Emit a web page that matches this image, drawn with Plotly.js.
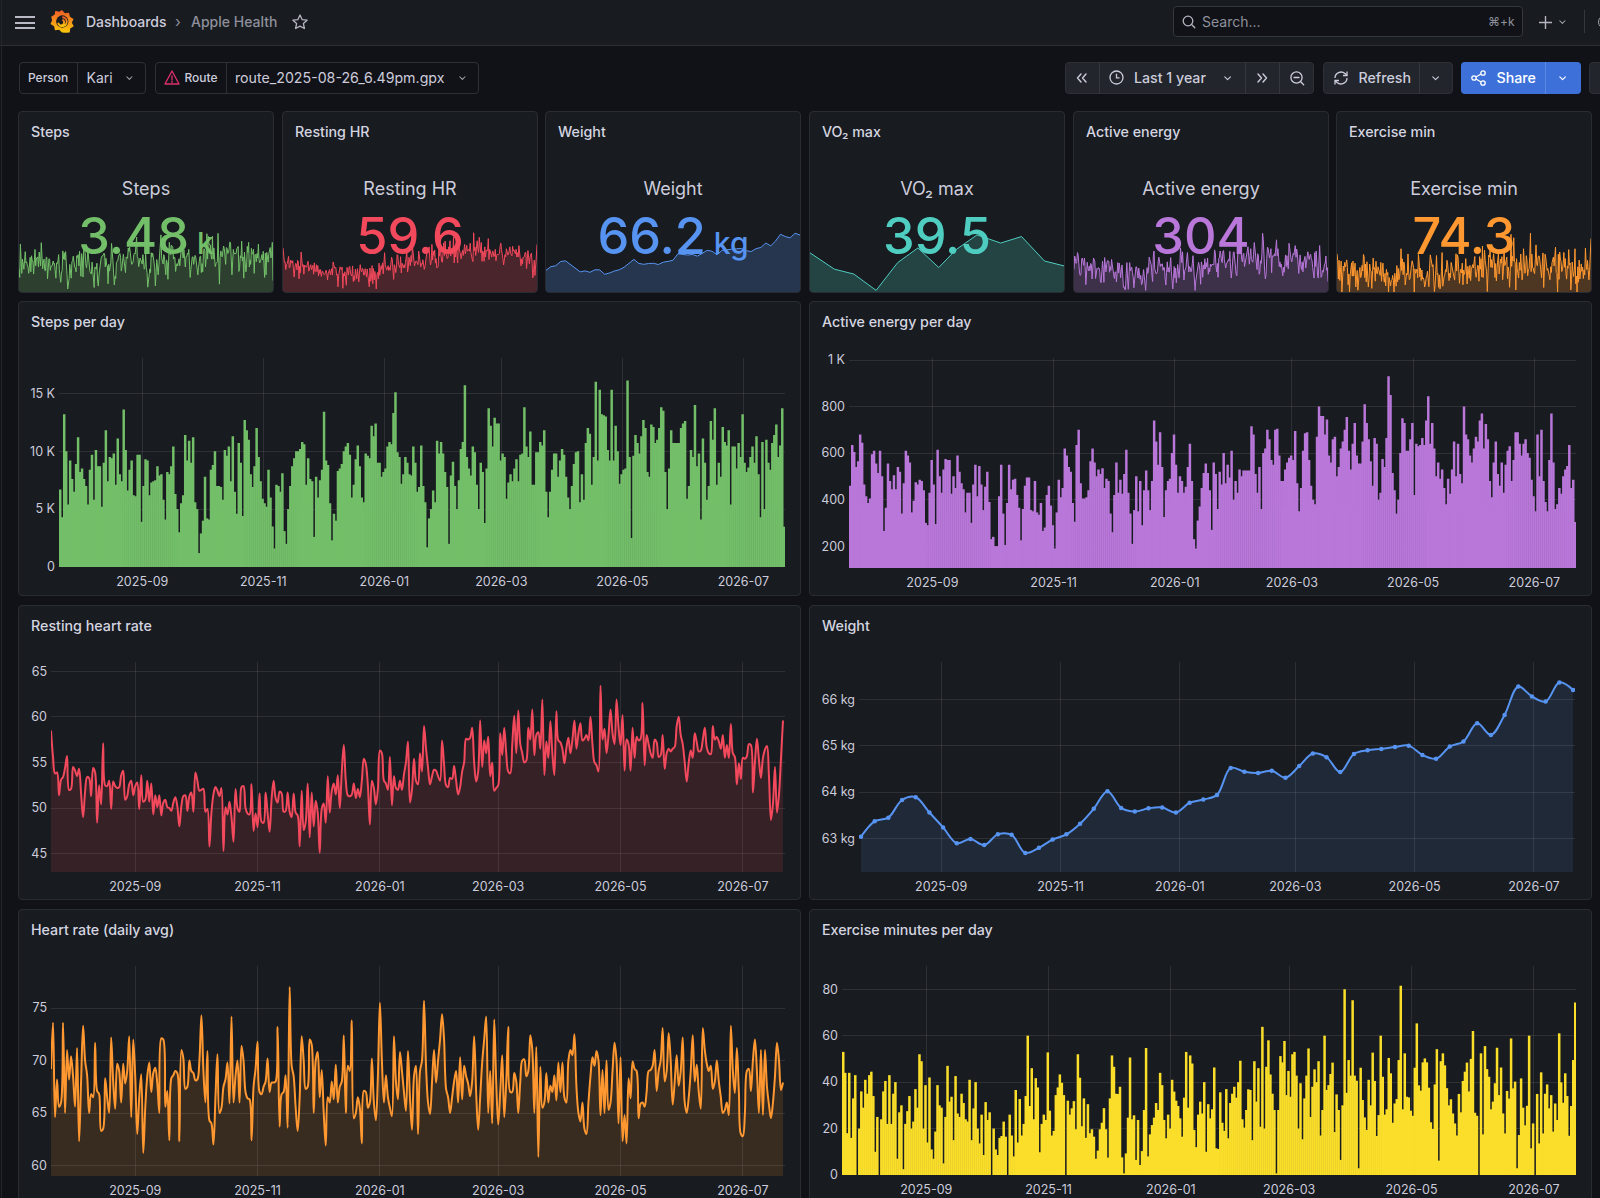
<!DOCTYPE html>
<html><head><meta charset="utf-8">
<script src="https://cdn.plot.ly/plotly-3.0.1.min.js"></script>
<style>
html,body{margin:0;padding:0;width:1600px;height:1198px;overflow:hidden;background:#111217;font-family:Inter,sans-serif;color:#ccccdc}
*{box-sizing:border-box}
.abs{position:absolute}
.t{position:absolute;white-space:nowrap;line-height:1}
.panel{position:absolute;background:#181b1f;border:1px solid #292c32;border-radius:4px;overflow:hidden}
.ptitle{position:absolute;left:12px;font-size:14.25px;font-weight:500;color:#d4d5e0;white-space:nowrap;line-height:16px}
.box{position:absolute;border:1px solid #2d3036;border-radius:4px}
.btn{position:absolute;background:#22252b;border:1px solid #2d3036;border-radius:4px}
svg{position:absolute;overflow:visible}
</style></head><body>
<div id="root"></div>
<script>
// ---------- data ----------
const personLabel = "Person", personValue = "Kari", routeLabel = "Route", routeValue = "route_2025-08-26_6.49pm.gpx";
const stepsK = [
6.7,4.3,13.2,10.0,5.4,9.2,7.6,6.5,8.9,11.2,
8.2,8.5,7.6,7.0,5.4,8.4,9.7,5.8,10.1,8.7,
8.7,5.2,9.0,11.8,7.4,9.5,9.4,9.8,7.1,11.1,
8.0,7.4,13.6,10.1,6.6,8.4,9.2,6.2,6.1,9.7,
9.7,3.9,7.0,9.3,9.2,6.2,7.3,7.4,7.5,8.7,
7.9,8.0,5.8,4.1,8.2,8.0,8.7,10.4,6.3,5.0,
3.0,5.5,6.2,11.4,9.2,10.9,9.0,11.2,5.6,5.0,
1.2,2.9,4.0,7.8,4.2,4.1,8.4,8.8,10.0,7.0,
7.0,6.9,5.8,10.1,9.6,10.4,7.4,11.3,6.5,4.6,
10.7,9.0,4.4,12.7,11.8,11.0,8.0,6.9,8.7,12.0,
9.5,7.4,5.9,5.5,5.2,8.4,6.0,3.5,1.6,7.1,
7.0,6.5,8.1,3.1,2.0,5.0,7.0,8.7,9.4,10.0,
10.0,10.2,10.8,10.6,7.1,9.4,7.6,7.4,2.6,7.8,
6.0,7.5,8.4,13.4,9.2,8.8,5.5,2.3,4.6,4.0,
8.3,8.5,8.9,10.0,10.4,10.7,9.7,6.0,7.1,9.3,
10.5,8.7,6.0,5.6,9.8,9.6,9.4,12.2,11.3,12.4,
9.0,9.0,7.8,8.2,8.5,10.4,10.8,10.6,13.3,15.1,
9.9,9.5,7.2,8.0,9.5,9.0,8.0,7.9,10.4,9.0,
6.5,6.9,10.5,7.0,5.6,1.7,4.2,5.0,6.6,5.6,
10.9,9.8,10.8,9.8,8.2,6.9,2.0,7.9,9.1,7.0,
5.0,7.5,10.2,10.8,15.7,9.5,8.5,7.9,10.4,9.9,
7.1,5.0,9.0,8.2,3.8,8.5,13.7,12.2,10.4,12.9,
12.4,12.4,9.2,9.8,9.5,5.9,7.3,8.0,7.4,8.5,
9.3,7.4,9.7,9.8,13.8,10.4,9.5,11.7,7.1,7.1,
9.9,9.9,10.8,10.5,11.8,6.5,4.3,6.5,8.4,9.8,
9.8,7.8,9.2,10.2,9.7,7.8,6.0,5.0,7.0,8.9,
9.9,10.0,5.6,8.0,5.8,10.7,12.0,11.5,7.1,9.5,
16.0,9.2,15.3,13.2,13.1,13.0,10.1,9.2,15.3,9.2,
12.2,10.0,7.2,8.0,8.4,8.5,16.1,9.5,2.5,9.6,
11.4,10.7,9.8,11.3,12.7,12.0,8.2,7.8,12.3,12.1,
10.7,11.0,12.0,13.8,13.5,8.2,5.0,8.5,11.8,10.7,
10.7,10.7,10.7,12.0,12.4,12.6,5.9,7.0,10.1,9.5,
14.0,8.7,9.8,4.1,11.1,9.0,5.8,7.0,12.6,11.0,
13.7,7.1,9.0,7.8,12.1,10.8,10.5,11.8,5.4,10.4,
10.4,8.5,10.7,9.5,13.2,9.0,8.2,8.6,9.5,10.4,
9.0,11.3,8.0,4.3,10.8,5.0,11.0,9.0,8.4,10.7,
11.4,12.3,9.5,10.5,13.7,3.48];
const activeEnergy = [
460,635,605,540,565,680,645,465,415,385,
405,595,610,555,515,610,500,265,365,555,
480,445,505,445,540,520,340,470,610,590,
560,345,395,475,465,485,480,440,300,290,
430,570,465,295,615,500,430,530,575,570,
570,425,500,450,590,520,470,445,345,430,
430,300,465,550,415,545,465,355,455,520,
390,230,240,200,200,415,550,340,205,385,
550,445,485,490,420,365,225,360,460,495,
495,355,350,480,345,335,385,265,280,420,
460,375,290,190,345,485,410,450,620,590,
540,520,385,305,635,700,470,405,405,410,
440,565,620,560,500,530,510,535,450,490,
480,340,260,420,560,430,485,425,510,615,
430,340,210,355,500,350,480,290,440,525,
440,355,480,740,650,550,690,540,325,440,
480,490,600,680,550,430,500,480,430,455,
540,640,480,230,190,310,370,450,515,555,
515,440,270,560,510,360,520,465,600,470,
550,495,610,400,480,430,530,500,525,525,
525,525,715,680,510,430,540,360,600,620,
700,660,570,550,700,705,590,480,480,530,
560,580,590,570,695,470,350,450,610,685,
690,570,460,400,380,670,800,760,760,680,
745,590,560,660,670,500,540,620,650,700,
755,610,530,640,730,590,555,555,650,810,
730,660,565,460,665,640,400,430,575,540,
665,930,850,515,440,340,400,600,750,730,
610,610,660,730,420,640,630,635,665,635,
740,845,640,730,620,500,560,490,530,450,
380,490,425,530,650,500,640,510,470,800,
680,660,590,560,620,670,650,740,770,620,
725,660,480,410,560,650,510,460,560,430,
550,610,630,480,570,690,690,640,590,640,
660,600,580,485,415,350,680,500,700,480,
390,350,570,770,560,360,380,450,425,500,
530,545,635,450,485,304];
const restingHR = [
58.5,55.6,53.8,53.9,51.4,53.1,53.4,54.4,55.7,52.0,
52.1,54.5,54.1,53.5,54.3,51.6,49.0,51.8,53.4,53.3,
51.3,54.4,53.9,48.4,52.5,50.4,57.1,52.5,52.4,53.0,
49.9,52.9,52.4,52.2,52.3,53.6,54.1,50.9,51.3,52.6,
53.0,51.4,52.4,52.8,49.9,53.6,50.7,50.9,53.0,50.7,
52.7,49.3,51.4,50.1,51.4,49.2,50.6,50.9,50.1,50.0,
49.7,50.6,51.2,50.2,48.0,50.2,51.3,51.4,49.7,51.3,
51.7,49.6,53.9,53.0,51.9,52.0,52.1,49.6,49.9,45.8,
49.5,51.5,52.3,51.9,51.3,52.2,45.3,50.1,49.3,50.7,
49.0,46.3,52.1,50.0,49.6,52.3,52.4,50.0,49.4,49.3,
52.6,47.5,49.4,47.9,51.6,48.5,48.4,51.7,49.5,47.4,
51.0,53.0,51.1,50.6,51.8,51.6,49.6,49.7,51.7,49.6,
49.0,51.6,49.5,49.2,45.8,51.9,47.6,48.5,52.7,46.8,
51.7,48.0,50.8,49.5,45.1,49.9,50.5,48.4,53.5,49.5,
51.9,52.7,51.5,53.6,50.0,54.0,56.9,53.0,51.4,51.3,
51.5,52.7,51.1,52.1,51.2,53.0,55.4,54.8,52.5,48.2,
53.0,52.2,50.4,52.1,56.3,56.0,53.0,52.7,52.0,55.6,
50.3,53.5,52.2,52.0,53.0,52.0,53.7,55.0,57.3,50.6,
52.0,55.4,53.0,52.6,56.0,54.0,59.0,56.5,54.4,52.6,
53.5,54.2,54.1,53.5,53.0,57.4,54.8,52.5,52.3,53.3,
53.2,54.6,53.0,51.5,52.3,54.0,55.0,57.6,57.5,57.7,
58.8,55.0,52.9,54.0,59.6,54.5,57.4,56.0,57.8,53.5,
55.0,51.9,52.2,52.5,58.2,55.8,58.8,56.0,54.0,53.8,
57.0,60.1,56.0,60.7,57.0,56.0,55.0,55.2,58.8,57.5,
60.8,55.8,58.0,58.3,56.5,61.9,53.6,57.3,55.5,59.5,
56.0,53.6,60.6,57.4,57.2,56.5,54.9,56.6,57.7,56.0,
57.5,59.6,56.5,58.2,59.3,57.4,57.6,58.0,57.4,60.0,
57.0,55.0,54.7,54.0,63.4,57.5,58.7,56.0,58.0,60.8,
58.2,57.0,61.9,58.8,56.9,60.2,54.1,57.5,57.0,54.1,
58.8,55.5,57.8,57.4,57.6,61.5,54.7,58.0,57.0,56.0,
55.5,57.5,57.2,55.6,55.8,58.0,54.3,56.0,56.5,56.2,
56.5,56.7,59.0,60.0,58.0,57.0,55.0,52.9,55.0,56.3,
55.5,58.2,57.2,56.2,56.3,57.5,58.8,56.6,56.0,55.9,
59.0,57.5,57.8,57.3,56.5,58.0,55.5,56.9,55.5,59.2,
56.0,55.6,52.6,54.9,53.2,55.5,55.4,55.7,57.0,56.9,
51.7,55.0,57.6,55.3,53.3,55.5,56.4,56.8,53.5,48.7,
50.5,54.5,49.5,51.5,55.5,59.6];
const heartRate = [
69.2,73.6,64.6,68.2,65.6,66.0,73.6,65.0,71.0,68.2,
70.4,68.5,65.6,71.2,62.3,68.0,73.3,70.0,68.6,65.0,
66.8,66.5,71.7,67.1,66.8,63.3,63.5,68.3,66.5,65.0,
72.2,68.0,65.4,69.7,69.0,66.0,69.7,67.8,69.0,72.3,
64.6,72.0,68.5,63.0,66.5,68.7,61.2,65.5,68.5,69.8,
67.0,68.8,69.3,67.8,65.0,72.1,72.0,65.6,67.1,62.4,
68.3,68.6,69.0,68.8,62.3,71.0,70.2,67.3,67.5,70.0,
69.0,68.8,68.1,68.2,70.0,74.3,69.0,66.0,70.9,64.3,
64.0,62.0,66.5,70.6,65.0,65.5,67.5,68.2,69.8,65.9,
74.2,66.0,68.5,70.0,66.0,71.4,70.0,67.0,66.4,66.3,
62.4,67.5,69.2,71.8,67.0,66.8,67.5,68.0,70.2,67.0,
67.9,67.9,68.0,73.2,63.7,66.8,67.0,68.6,63.6,77.0,
69.5,68.5,65.5,63.3,66.5,72.3,70.0,67.3,67.5,72.0,
71.5,65.0,70.0,70.8,66.5,69.1,65.0,61.9,66.5,66.0,
68.0,66.3,69.6,66.0,67.5,68.0,72.4,65.0,69.5,69.0,
73.8,64.5,65.0,66.5,65.5,62.1,67.1,67.0,65.5,66.0,
70.2,66.0,64.3,68.5,75.5,70.0,66.0,68.6,66.5,65.5,
64.7,72.3,68.0,66.3,70.8,69.0,67.0,65.2,70.9,66.5,
63.4,68.5,69.5,63.0,69.0,70.0,75.7,69.5,66.0,64.9,
68.0,71.0,67.9,70.0,72.0,74.4,72.0,67.3,66.5,65.0,
66.5,68.0,69.0,66.0,70.3,66.3,69.5,68.5,67.8,66.6,
68.0,72.3,67.0,63.4,66.5,69.8,72.0,74.2,65.0,69.0,
64.0,73.9,68.0,63.9,67.0,70.5,64.6,68.0,73.2,67.0,
67.0,68.8,68.0,65.0,68.0,70.0,70.1,68.5,69.0,72.4,
71.0,65.0,71.3,60.8,69.4,65.5,66.0,68.8,66.0,67.6,
67.0,68.6,66.2,69.8,67.0,69.8,66.5,66.0,70.0,71.0,
70.5,72.5,67.5,65.0,64.2,66.0,63.5,63.0,66.0,68.5,
70.3,69.5,70.9,70.0,64.8,69.1,65.0,70.0,65.3,66.0,
69.0,71.7,70.0,64.0,70.3,62.3,64.8,62.1,68.3,66.4,
69.9,69.2,69.0,64.5,65.9,66.0,65.6,67.0,69.0,69.1,
69.5,71.0,67.1,69.0,70.0,73.1,68.0,69.0,72.6,70.0,
65.8,68.0,70.5,67.6,69.0,72.2,66.0,65.0,66.5,69.0,
72.4,68.0,69.6,67.0,65.4,73.1,71.0,69.7,69.0,69.5,
67.3,68.0,70.0,68.0,66.5,65.0,65.3,66.0,64.8,73.3,
69.0,66.9,71.2,67.0,63.0,62.8,65.0,69.0,69.2,67.1,
70.0,72.0,69.0,65.0,71.0,64.8,71.0,67.5,65.8,64.5,
66.0,68.5,71.7,70.0,67.2,67.9];
const exerciseMin = [
53,44,18,44,16,33,43,0,20,36,
29,41,35,43,44.5,34,10,25,0,24,
36,40.5,22,43,22,35,40,7,27,30,
2.5,22,27.5,34,20,23,37,29,52,49,
20,38.7,14,42,11,7,18.7,38.7,30,29,
5,25,47,31.6,33.7,15,42.6,26.5,25,35,
31,24,23,41,15,28.7,40,20,13.6,26,
8.6,31.4,23.7,27,0,20,11,8.6,16,16.8,
23,16.5,0,26,17,8,36.6,14,32.7,17,22,
34,60,29.7,46,24,41.7,37.7,9.8,22,26,
23.7,52.8,27.7,17,19,34.4,37.7,43.3,39.7,34.4,
0,32,26,28.7,31.8,19.7,52,41.9,21,33,
16,30.5,18,19.7,16.5,7,10.5,19.7,22.5,28.8,
19.7,7.5,33,51.5,46.6,35,34.9,38,7.6,0.7,
9.3,24.7,50.6,24,25.7,6.5,23.7,4.3,10.3,28,
54.7,8,17.5,21.5,24.7,31,28,44,38.7,23.7,
15.8,26,20,41,35.9,32,29.7,24.4,16.5,33.3,
53,29,51.5,48,19.4,12,26,31.6,26.5,40,
10,30.5,24.4,28.3,46.3,11.5,11.2,35.6,22.5,19,
37,15.8,31,35,38,33.3,40,49.2,24,20.4,28,
36.9,36.6,15,49,31.6,46,20.8,63.8,20,46.6,
58,43.3,35,28,0.7,28,51.2,48.5,57.7,34.4,
44.8,33.7,52,53,42.8,20,39.5,15.4,33,42.8,
54.5,25,38,45.5,40,49,17,28,60,36.6,
38.7,43.5,48.4,18.5,34.7,28,6.5,30,80,35.4,
49.5,42.8,75.3,42.8,40.6,2.9,46.2,32.3,24.8,19.4,
41,30,52.7,40.5,16.8,25.8,60,42.3,26,28.3,
50.4,43.8,22.5,30.8,32.7,49.5,81.5,28.3,52.4,33.7,
33.4,27.7,25.5,46.2,65.3,38.6,36.3,48.5,50.2,48.5,
37.6,22.7,19.8,39,54.2,6.2,49,52.4,47.2,37.4,30,
32.6,26.5,22.2,17,34.9,27,40.5,44.5,48.4,36,
50,62,26.8,25.5,0,52.4,17.5,55.5,45.6,42.3,
28.3,31.6,39.5,54.8,34.4,46.3,26.5,17.9,36.2,32.9,
58.8,37.3,40.2,2.9,17.2,41.6,29,21.4,29.8,60,
11.5,22.2,0,34.9,13.6,44.2,17.9,35,39,28.7,
34.4,18.7,30.8,23.7,61,39.9,31.1,43.8,34,16.9,
29.7,49.5,74.3];
const weightDates = ["2025-07-22","2025-07-29","2025-08-05","2025-08-12","2025-08-19","2025-08-26","2025-09-02","2025-09-09","2025-09-16","2025-09-23","2025-09-30","2025-10-07","2025-10-14","2025-10-21","2025-10-28","2025-11-04","2025-11-11","2025-11-18","2025-11-25","2025-12-02","2025-12-09","2025-12-16","2025-12-23","2025-12-30","2026-01-06","2026-01-13","2026-01-20","2026-01-27","2026-02-03","2026-02-10","2026-02-17","2026-02-24","2026-03-03","2026-03-10","2026-03-17","2026-03-24","2026-03-31","2026-04-07","2026-04-14","2026-04-21","2026-04-28","2026-05-05","2026-05-12","2026-05-19","2026-05-26","2026-06-02","2026-06-09","2026-06-16","2026-06-23","2026-06-30","2026-07-07","2026-07-14","2026-07-21"];
const weightKg = [63.04,63.37,63.45,63.83,63.89,63.56,63.24,62.9,62.99,62.86,63.09,63.08,62.69,62.8,62.98,63.09,63.32,63.64,64.02,63.66,63.58,63.65,63.67,63.56,63.77,63.84,63.94,64.52,64.44,64.41,64.46,64.31,64.56,64.83,64.75,64.43,64.82,64.9,64.93,64.97,65.0,64.8,64.72,64.98,65.09,65.48,65.23,65.66,66.27,66.06,65.95,66.36,66.2];
const vo2Dates = ["2025-07-21","2025-08-25","2025-09-22","2025-10-24","2025-11-24","2025-12-23","2026-01-22","2026-02-16","2026-03-18","2026-04-21","2026-05-21","2026-06-23","2026-07-21"];
const vo2Max = [40.3,39.3,39.0,38.0,39.7,40.6,39.4,40.5,41.4,40.9,41.3,39.8,39.5];
const statTitles = ["Steps","Resting HR","Weight","VO₂ max","Active energy","Exercise min"];
const statValues = ["3.48","59.6","66.2","39.5","304","74.3"];
const statUnits = [" k","",' kg',"","",""];
const xTickLabelFormat = "%Y-%m";
const stepsTicks = [0,5,10,15], stepsTickText = ["0","5 K","10 K","15 K"];
const energyTicks = [200,400,600,800,1000], energyTickText = ["200","400","600","800","1 K"];
const rhrTicks = [45,50,55,60,65], hrTicks = [60,65,70,75], weightTicks=[63,64,65,66], weightTickText=["63 kg","64 kg","65 kg","66 kg"], exTicks=[0,20,40,60,80];

// ---------- helpers ----------
const dayDates = n => { const a=[]; const t0=Date.UTC(2025,6,21); for(let i=0;i<n;i++) a.push(new Date(t0+i*864e5).toISOString().slice(0,10)); return a; };
const GREEN="#73BF69",RED="#F2495C",BLUE="#5794F2",TEAL="#4ECDC0",PURPLE="#B877D9",ORANGE="#FF9830",YELLOW="#FADE2A";
const rgba=(h,a)=>{const n=parseInt(h.slice(1),16);return `rgba(${n>>16},${(n>>8)&255},${n&255},${a})`};
const root=document.getElementById('root');
const cfg={staticPlot:true,displayModeBar:false,responsive:false};
function el(tag,cls,style,html,parent){const e=document.createElement(tag);if(cls)e.className=cls;if(style)e.style.cssText=style;if(html!=null)e.innerHTML=html;(parent||root).appendChild(e);return e;}
function text(x,y,s,size,color,weight,parent){
  const st=`left:${x}px;top:${y-size/2}px;font-size:${size}px;color:${color};font-weight:${weight||400};`;
  return el('div','t',st,s,parent);
}
const X0='2025-07-21', X1='2026-07-22';

function timeChart(o){
  const p=el('div','panel',`left:${o.l}px;top:${o.t}px;width:${o.r-o.l}px;height:${o.b-o.t}px`);
  el('div','ptitle',`top:12px`,o.title,p);
  const d=el('div','abs',`left:0;top:0;width:${o.r-o.l-2}px;height:${o.vh-o.t-1}px`,null,p);
  const layout={
    width:o.r-o.l-2,height:o.vh-o.t-1,
    margin:{l:o.pl-o.l-1,r:o.r-1-o.pr,t:o.pt-o.t-1,b:o.vh-o.pb,pad:0},
    paper_bgcolor:'rgba(0,0,0,0)',plot_bgcolor:'rgba(0,0,0,0)',showlegend:false,barmode:'overlay',
    font:{family:'Inter, sans-serif',size:13,color:'#ccccdc'},
    xaxis:{type:'date',range:[X0,X1],tick0:'2025-09-01',dtick:'M2',tickformat:xTickLabelFormat,showgrid:true,gridcolor:'rgba(204,204,220,0.12)',gridwidth:1,zeroline:false,showline:false,ticks:'',tickfont:{size:12.5,color:'#ccccdc'},ticklabelstandoff:5,automargin:false},
    yaxis:Object.assign({range:o.yr,tickmode:'array',tickvals:o.ticks,showgrid:true,gridcolor:'rgba(204,204,220,0.12)',gridwidth:1,zeroline:false,showline:false,ticks:'',tickfont:{size:12.5,color:'#ccccdc'},ticklabelstandoff:3,automargin:false},o.ticktext?{ticktext:o.ticktext}:{})
  };
  Plotly.newPlot(d,o.traces,layout,cfg);
}
const bar=(x,y,c)=>({type:'bar',x,y,width:864e5*1.25,offset:0,marker:{color:c,line:{width:0}},hoverinfo:'skip'});
const area=(x,y,c,a,w,mode,ms)=>({type:'scatter',mode:mode||'lines',x,y,line:{color:c,width:w,shape:'spline',smoothing:1},marker:{color:c,size:ms||5},fill:'tozeroy',fillcolor:rgba(c,a),hoverinfo:'skip',cliponaxis:true});

// ---------- chrome ----------
el('div','abs','left:0;top:0;width:1600px;height:46px;background:#181b1f;border-bottom:1px solid #2c2f35');
el('div','abs','left:1px;top:0;width:1px;height:1198px;background:#22252b');
el('div','abs','left:15px;top:16px;width:20px;height:2px;background:#b9bac6');
el('div','abs','left:15px;top:21.5px;width:20px;height:2px;background:#b9bac6');
el('div','abs','left:15px;top:27px;width:20px;height:2px;background:#b9bac6');
const svgNS=(s,x,y,w,h,vb)=>`<svg style="left:${x}px;top:${y}px" width="${w}" height="${h}" viewBox="${vb||`0 0 ${w} ${h}`}" fill="none">${s}</svg>`;
const icon=(s,x,y,w,h,vb,parent)=>el('div','abs','left:0;top:0',svgNS(s,x,y,w,h,vb),parent);
const chev=(cx,cy,c,sz)=>{const k=sz||1;return icon(`<path d="M1 1l3.5 3.5L8 1" stroke="${c||'#ccccdc'}" stroke-width="1.4" stroke-linecap="round" stroke-linejoin="round"/>`,cx-4.5*k,cy-3*k,9*k,6*k,'0 0 9 6');};
icon(`<defs><linearGradient id="g" x1="0" y1="1" x2="0" y2="0"><stop offset="0" stop-color="#FBCA0A"/><stop offset="1" stop-color="#F05A28"/></linearGradient></defs>
<path d="M12 0l3 3.5 4.3-.7 1 4.2 3.7 2.3-1.7 4 2 3.7-3.7 2.3-.6 4.3-4.3.1L12 23.5 9 20.5l-4.3.7-1-4.2L0 14.7l1.7-4-1-3.7L4.4 4.7 5 .8l4 .9z" fill="url(#g)"/>
<circle cx="12.3" cy="12" r="6.4" fill="#181b1f"/><path d="M12.3 7.6a4.6 4.6 0 1 1-4.4 5.8a3.2 3.2 0 1 0 4.6-3.4" stroke="url(#g)" stroke-width="2"/>`,50,10,24,23,'0 0 24 24');
text(86,22,'Dashboards',14,'#ccccdc',500);
text(175,21,'›',15,'#8e8f9c',400);
text(191,22,'Apple Health',14,'#8e909c',500);
icon(`<path d="M8 1l2.1 4.6 5 .6-3.7 3.4 1 4.9L8 12.1l-4.4 2.4 1-4.9L.9 6.2l5-.6z" stroke="#b4b5c0" stroke-width="1.3" stroke-linejoin="round"/>`,292,14,16,16);
// search
el('div','box','left:1173px;top:6px;width:350px;height:31px;background:#111217;border-color:#34373d');
icon(`<circle cx="6" cy="6" r="4.8" stroke="#b4b5c0" stroke-width="1.3"/><path d="M9.8 9.8l3 3" stroke="#b4b5c0" stroke-width="1.3" stroke-linecap="round"/>`,1182,15,14,14);
text(1202,22,'Search...',14,'#8e909c',400);
text(1488,22,'⌘+k',12,'#8e909c',400);
icon(`<path d="M6.5 0v13M0 6.5h13" stroke="#b4b5c0" stroke-width="1.4"/>`,1539,16,13,13);
chev(1562,22,'#a4a5b0',0.75);
el('div','abs','left:1584px;top:10px;width:1px;height:23px;background:#34373d');
el('div','abs','left:1598px;top:15px;width:14px;height:14px;border-radius:50%;border:1px solid #a4a5b0');
// variables
el('div','box','left:19px;top:62px;width:127px;height:32px');
el('div','abs','left:77px;top:62px;width:1px;height:32px;background:#2d3036');
text(28,78,personLabel,12,'#ccccdc',500);
text(86.5,78,personValue,14,'#ccccdc',400);
chev(129,78,'#a4a5b0',0.75);
el('div','box','left:155px;top:62px;width:324px;height:32px');
el('div','abs','left:226px;top:62px;width:1px;height:32px;background:#2d3036');
icon(`<path d="M8 1L1 14h14z" stroke="#E0306A" stroke-width="1.3" stroke-linejoin="round"/><path d="M8 6v4M8 11.5v1" stroke="#E0306A" stroke-width="1.3" stroke-linecap="round"/>`,164,70,16,16);
text(184.5,78,routeLabel,12,'#ccccdc',500);
text(235,78,routeValue,14.2,'#ccccdc',400);
chev(462,78,'#a4a5b0',0.75);
// time controls
el('div','btn','left:1065px;top:62px;width:249px;height:32px');
el('div','abs','left:1099px;top:62px;width:1px;height:32px;background:#34373d');
el('div','abs','left:1245px;top:62px;width:1px;height:32px;background:#34373d');
el('div','abs','left:1279px;top:62px;width:1px;height:32px;background:#34373d');
const dbl=(x,y,dir)=>icon(dir<0?`<path d="M5 1L1.5 5 5 9M10 1L6.5 5 10 9" stroke="#ccccdc" stroke-width="1.4" stroke-linecap="round" stroke-linejoin="round"/>`:`<path d="M1 1l3.5 4L1 9M6 1l3.5 4L6 9" stroke="#ccccdc" stroke-width="1.4" stroke-linecap="round" stroke-linejoin="round"/>`,x,y,11,10);
dbl(1076,73,-1);
icon(`<circle cx="7.5" cy="7.5" r="6.5" stroke="#ccccdc" stroke-width="1.3"/><path d="M7.5 3.8v4h3" stroke="#ccccdc" stroke-width="1.3"/>`,1109,70,15,15);
text(1134,78,'Last 1 year',14.2,'#ccccdc',500);
chev(1228,78,'#ccccdc',0.8);
dbl(1257,73,1);
icon(`<circle cx="6.5" cy="6.5" r="5.6" stroke="#ccccdc" stroke-width="1.3"/><path d="M4 6.5h5M10.7 10.7l3 3" stroke="#ccccdc" stroke-width="1.3" stroke-linecap="round"/>`,1290,71,15,15);
el('div','btn','left:1323px;top:62px;width:130px;height:32px');
el('div','abs','left:1419px;top:62px;width:1px;height:32px;background:#34373d');
icon(`<path d="M2 8a6 6 0 0 1 10-4.4L14 5.5M14 8a6 6 0 0 1-10 4.4L2 10.5" stroke="#ccccdc" stroke-width="1.3"/><path d="M14 1.5v4h-4M2 14.5v-4h4" stroke="#ccccdc" stroke-width="1.3"/>`,1333,70,16,16);
text(1358.5,78,'Refresh',14.2,'#ccccdc',500);
chev(1436,78,'#ccccdc',0.8);
el('div','abs','left:1461px;top:62px;width:120px;height:32px;background:#3D71D9;border-radius:4px');
el('div','abs','left:1545px;top:62px;width:1px;height:32px;background:#5c88e0');
icon(`<circle cx="3" cy="8" r="2.2" stroke="#fff" stroke-width="1.3"/><circle cx="12" cy="3" r="2.2" stroke="#fff" stroke-width="1.3"/><circle cx="12" cy="13" r="2.2" stroke="#fff" stroke-width="1.3"/><path d="M5 7l5-3M5 9l5 3" stroke="#fff" stroke-width="1.3"/>`,1471,70,16,16);
text(1496.5,78,'Share',14.2,'#ffffff',500);
chev(1563,78,'#ffffff',0.8);
el('div','btn','left:1589px;top:62px;width:30px;height:32px');

// ---------- stat panels ----------
const statX=[[18,274],[282,538],[545,801],[809,1065],[1073,1329],[1336,1592]];
const statCol=[GREEN,RED,BLUE,TEAL,PURPLE,ORANGE];
const days=dayDates(366);
const statX_data=[days,days,weightDates,vo2Dates,days,days];
const statY_data=[stepsK,restingHR,weightKg,vo2Max,activeEnergy,exerciseMin];
const statRange=[[0.4,17],[44.1,64.3],[61.1,66.65],[37.9,41.7],[170,972],[0,86]];
statTitles.forEach((name,i)=>{
  const [l,r]=statX[i], col=statCol[i];
  const p=el('div','panel',`left:${l}px;top:111px;width:${r-l}px;height:182px`);
  el('div','ptitle','top:12px',name,p);
  const W=r-l-2;
  el('div','t',`left:0;width:${W}px;text-align:center;top:67px;font-size:18px;line-height:20px;color:#ccccdc`,name,p);
  el('div','t',`left:0;width:${W}px;text-align:center;top:97px;font-size:50.5px;line-height:54px;font-weight:500;color:${col}`,
     statValues[i]+(statUnits[i]?`<span style="font-size:30px">${statUnits[i]}</span>`:''),p);
  const d=el('div','abs',`left:0;top:118px;width:${W}px;height:62px`,null,p);
  const tr={type:'scatter',mode:'lines',x:statX_data[i],y:statY_data[i],line:{color:col,width:1},fill:'tozeroy',fillcolor:rgba(col,0.23),hoverinfo:'skip'};
  Plotly.newPlot(d,[tr],{width:W,height:62,margin:{l:0,r:0,t:0,b:0,pad:0},paper_bgcolor:'rgba(0,0,0,0)',plot_bgcolor:'rgba(0,0,0,0)',showlegend:false,
    xaxis:{visible:false,type:'date',range:[statX_data[i][0],statX_data[i][statX_data[i].length-1]]},
    yaxis:{visible:false,range:statRange[i]}},cfg);
});

// ---------- time-series panels ----------
const VH=1198;
timeChart({title:'Steps per day',l:18,r:801,t:301,b:596,vh:596,pl:59,pr:785,pt:358,pb:567,yr:[0,18.05],ticks:stepsTicks,ticktext:stepsTickText,traces:[bar(days,stepsK,GREEN)]});
timeChart({title:'Active energy per day',l:809,r:1592,t:301,b:596,vh:596,pl:849,pr:1576,pt:358,pb:567.7,yr:[106,1009],ticks:energyTicks,ticktext:energyTickText,traces:[bar(days,activeEnergy,PURPLE)]});
timeChart({title:'Resting heart rate',l:18,r:801,t:605,b:900,vh:900,pl:51,pr:785,pt:662.3,pb:871.7,yr:[43,66],ticks:rhrTicks,traces:[area(days,restingHR,RED,0.14,2)]});
timeChart({title:'Weight',l:809,r:1592,t:605,b:900,vh:900,pl:859,pr:1575.5,pt:662.3,pb:871.7,yr:[62.28,66.8],ticks:weightTicks,ticktext:weightTickText,traces:[area(weightDates,weightKg,BLUE,0.12,2,'lines+markers',4.5)]});
timeChart({title:'Heart rate (daily avg)',l:18,r:801,t:909,b:1210,vh:VH,pl:51,pr:785,pt:966,pb:1175.7,yr:[59,79],ticks:hrTicks,traces:[area(days,heartRate,ORANGE,0.14,2)]});
timeChart({title:'Exercise minutes per day',l:809,r:1592,t:909,b:1210,vh:VH,pl:841.8,pr:1576,pt:966,pb:1175,yr:[0,90],ticks:exTicks,traces:[bar(days,exerciseMin,YELLOW)]});
</script>
</body></html>
